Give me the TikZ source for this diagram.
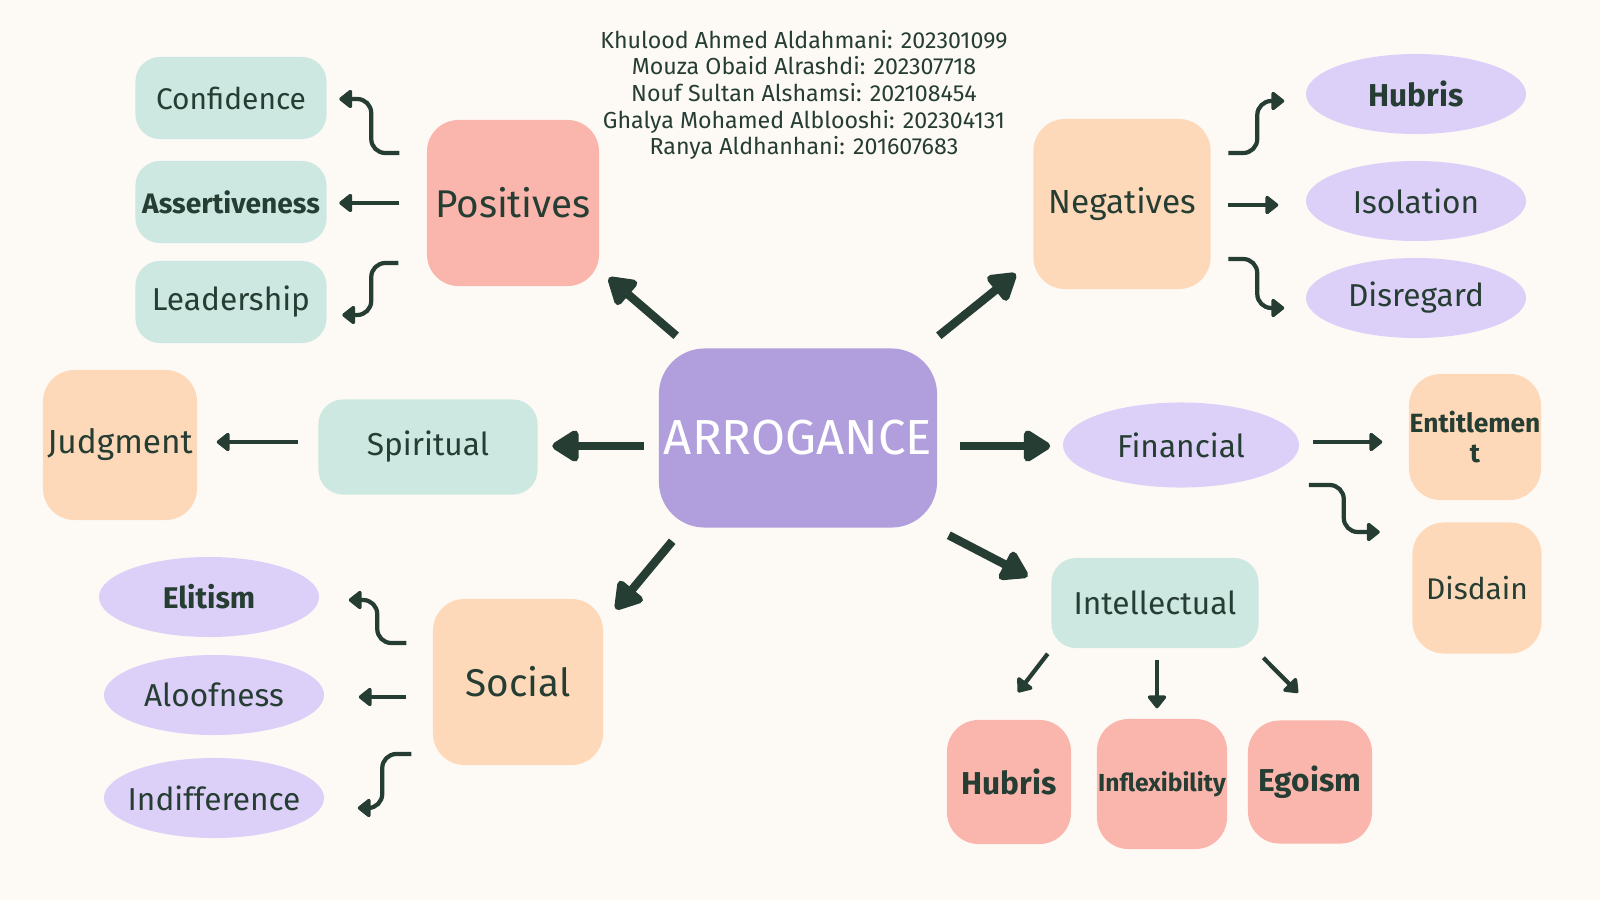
\documentclass[tikz,border=0pt]{standalone}
\usepackage{fontspec}
\setmainfont{Fira Sans}
\usetikzlibrary{arrows.meta,shapes.geometric}
\definecolor{ink}{HTML}{263D33}
\definecolor{paper}{HTML}{FDFAF6}
\definecolor{mintc}{HTML}{CDE7E1}
\definecolor{salmonc}{HTML}{FAB6AC}
\definecolor{peachc}{HTML}{FDD9BA}
\definecolor{lilacc}{HTML}{DDD0F8}
\definecolor{violetc}{HTML}{B19FDD}
\newcommand{\fs}[1]{\fontsize{#1}{1.15\dimexpr#1pt\relax}\selectfont}

\begin{document}
\begin{tikzpicture}[x=0.01cm, y=-0.01cm, text=ink,
        box/.style={rectangle, rounded corners=7pt, inner sep=0pt, align=center},
        mintbox/.style={box, fill=mintc},
        pinkbox/.style={box, fill=salmonc, rounded corners=9pt},
        peachbox/.style={box, fill=peachc, rounded corners=9pt},
        lilacblob/.style={ellipse, fill=lilacc, inner xsep=-0.2cm, inner ysep=0pt, minimum width=2.2cm, minimum height=0.8cm},
        bigarr/.style={draw=ink, line width=2.4pt, -{Triangle[length=8.5pt, width=10pt, round]}},
        thinarr/.style={draw=ink, line width=1.2pt, rounded corners=4pt, -{Triangle[length=4pt, width=6pt, round]}}]
        \fill[paper] (0,0) rectangle (1600,900);

        \node[align=center, font=\fs{6.6}] (names) at (804,95) {Khulood Ahmed Aldahmani: 202301099\\Mouza Obaid Alrashdi: 202307718\\Nouf Sultan Alshamsi: 202108454\\Ghalya Mohamed Alblooshi: 202304131\\Ranya Aldhanhani: 201607683};

        \node[box, fill=violetc, rounded corners=13pt, minimum width=2.78cm, minimum height=1.79cm, text=white, font=\fs{14}] (arr) at (798,438) {ARROGANCE};

        \node[pinkbox, minimum width=1.72cm, minimum height=1.66cm, font=\fs{11}] (pos) at (513,203) {Positives};
        \node[mintbox, minimum width=1.91cm, minimum height=0.82cm, font=\fs{8.5}] (conf) at (231,98) {Confidence};
        \node[mintbox, minimum width=1.91cm, minimum height=0.82cm, font=\fs{8}\bfseries] (asr) at (231,202) {Assertiveness};
        \node[mintbox, minimum width=1.91cm, minimum height=0.82cm, font=\fs{9}] (lead) at (231,302) {Leadership};

        \node[peachbox, minimum width=1.77cm, minimum height=1.70cm, font=\fs{9.5}] (neg) at (1122,204) {Negatives};
        \node[lilacblob, font=\fs{9}\bfseries] (hub) at (1416,94) {Hubris};
        \node[lilacblob, font=\fs{9}] (iso) at (1416,201) {Isolation};
        \node[lilacblob, font=\fs{9}] (dis) at (1416,298) {Disregard};

        \node[mintbox, minimum width=2.19cm, minimum height=0.95cm, font=\fs{9}] (spir) at (428,447) {Spiritual};
        \node[peachbox, minimum width=1.54cm, minimum height=1.50cm, font=\fs{9.5}] (judg) at (120,445) {Judgment};

        \node[lilacblob, minimum width=2.36cm, minimum height=0.85cm, font=\fs{9}] (fin) at (1181,445) {Financial};
        \node[peachbox, minimum width=1.32cm, minimum height=1.26cm, font=\fs{7.5}\bfseries] (ent) at (1475,437) {Entitlemen\\t};
        \node[peachbox, minimum width=1.29cm, minimum height=1.31cm, font=\fs{8.5}] (dsd) at (1477,588) {Disdain};

        \node[mintbox, minimum width=2.07cm, minimum height=0.90cm, font=\fs{9}] (intel) at (1155,603) {Intellectual};
        \node[pinkbox, minimum width=1.24cm, minimum height=1.24cm, font=\fs{9}\bfseries] (hubb) at (1009,782) {Hubris};
        \node[pinkbox, minimum width=1.30cm, minimum height=1.30cm, font=\fs{7}\bfseries] (infl) at (1162,784) {Inflexibility};
        \node[pinkbox, minimum width=1.24cm, minimum height=1.23cm, font=\fs{9}\bfseries] (ego) at (1310,782) {Egoism};

        \node[peachbox, minimum width=1.70cm, minimum height=1.66cm, font=\fs{11}] (soc) at (518,682) {Social};
        \node[lilacblob, font=\fs{8.5}\bfseries] (eli) at (209,597) {Elitism};
        \node[lilacblob, font=\fs{9}] (alo) at (214,695) {Aloofness};
        \node[lilacblob, font=\fs{9}] (ind) at (214,798) {Indifference};

        \draw[bigarr] ([shift={(18,-12)}]arr.north west) -- ([shift={(9,-9)}]pos.south east);
        \draw[bigarr] ([shift={(1,-12)}]arr.north east) -- ([shift={(-17,-16)}]neg.south west);
        \draw[bigarr] ([shift={(-14,8)}]arr.west) -- ([shift={(14,-1)}]spir.east);
        \draw[bigarr] ([shift={(22,8)}]arr.east) -- ([shift={(-12,1)}]fin.west);
        \draw[bigarr] ([shift={(14,13)}]arr.south west) -- ([shift={(12,11)}]soc.north east);
        \draw[bigarr] ([shift={(11,7)}]arr.south east) -- ([shift={(-23,19)}]intel.north west);

        \draw[thinarr] ([shift={(-27,-50)}]pos.west) -- ++(-28,0) |- ([shift={(12,1)}]conf.east);
        \draw[thinarr] ([shift={(-27,0)}]pos.west) -- ([shift={(12,1)}]asr.east);
        \draw[thinarr] ([shift={(-28,60)}]pos.west) -- ++(-27,0) |- ([shift={(15,13)}]lead.east);

        \draw[thinarr] ([shift={(17,-51)}]neg.east) -- ++(29,0) |- ([shift={(-21,7)}]hub.west);
        \draw[thinarr] ([shift={(17,1)}]neg.east) -- ([shift={(-27,4)}]iso.west);
        \draw[thinarr] ([shift={(17,55)}]neg.east) -- ++(29,0) |- ([shift={(-21,10)}]dis.west);

        \draw[thinarr] ([shift={(-20,-5)}]spir.west) -- ([shift={(19,-3)}]judg.east);

        \draw[thinarr] ([shift={(13,-3)}]fin.east) -- ([shift={(-26,5)}]ent.west);
        \draw[thinarr] ([shift={(9,40)}]fin.east) -- ++(35,0) |- ([shift={(-32,-56)}]dsd.west);

        \draw[thinarr] ([shift={(-3,5)}]intel.south west) -- ([shift={(9,-27)}]hubb.north);
        \draw[thinarr] ([shift={(2,11)}]intel.south) -- ([shift={(-5,-10)}]infl.north);
        \draw[thinarr] ([shift={(4,9)}]intel.south east) -- ([shift={(-12,-27)}]ego.north);

        \draw[thinarr] ([shift={(-26,-39)}]soc.west) -- ++(-29,0) |- ([shift={(29,3)}]eli.east);
        \draw[thinarr] ([shift={(-26,15)}]soc.west) -- ([shift={(34,2)}]alo.east);
        \draw[thinarr] ([shift={(-21,72)}]soc.west) -- ++(-29,0) |- ([shift={(33,10)}]ind.east);
    \end{tikzpicture}
\end{document}
